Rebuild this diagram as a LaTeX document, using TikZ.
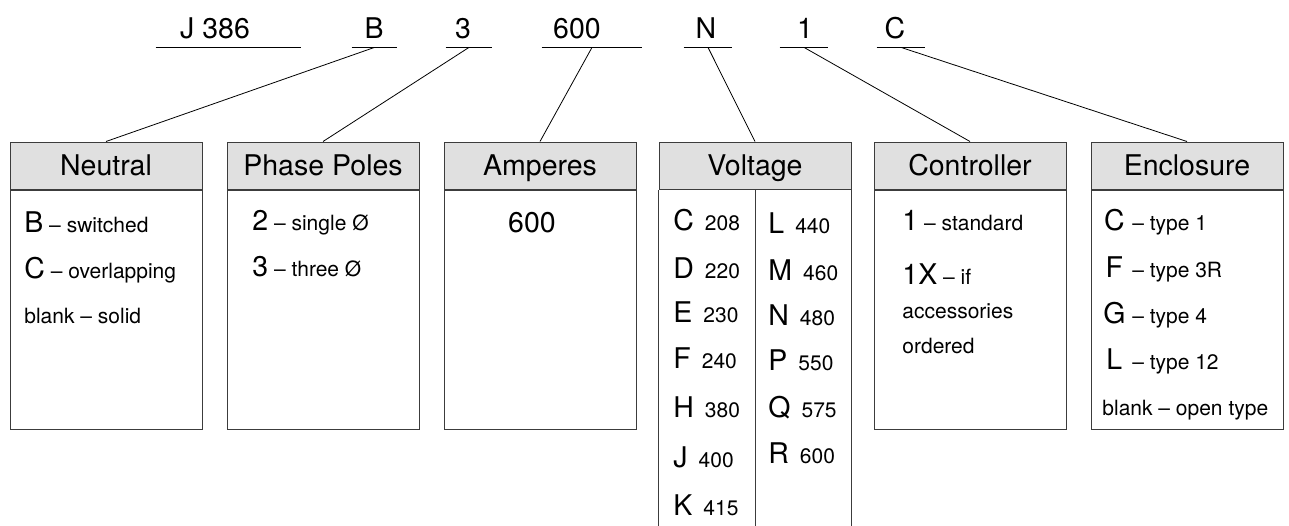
\documentclass[tikz,border=0pt]{standalone}
\usepackage{fontspec}
\setmainfont{TeX Gyre Heros}
\usetikzlibrary{positioning}
\definecolor{headgray}{RGB}{224,224,224}
\definecolor{rulegray}{RGB}{60,60,60}
\newcommand{\keyltr}[1]{{\fontsize{14.25}{17}\selectfont #1}}
\tikzset{
    code/.style = {
      font=\fontsize{14.25}{17}\selectfont, inner sep=0, anchor=base,
    },
    underbar/.style = {
      inner sep=0, minimum height=0pt,
    },
    bar/.style = {
      black, line width=0.5pt,
    },
    header/.style = {
      draw=rulegray, fill=headgray, line width=0.5pt, inner sep=0,
      minimum width=96pt, minimum height=23.5pt,
      text height=10.3pt, text depth=0pt, font=\fontsize{14.25}{17}\selectfont,
    },
    body/.style = {
      draw=rulegray, line width=0.5pt, inner sep=0,
      minimum width=96pt, minimum height=119.5pt,
    },
    entry/.style = {
      font=\fontsize{10.5}{12}\selectfont, inner sep=0, anchor=base west,
    },
    leader/.style = {
      black, line width=0.4pt,
    },
}

\begin{document}
\begin{tikzpicture}[x=0.5pt, y=-0.5pt]
    \useasboundingbox (0,0) rectangle (1289,525);

    %% Catalogue number, one field per underline
    \node [code] (tJ) at (215,38) {J 386};
    \node [code] (tB) at (374,38) {B};
    \node [code] (t3) at (463,38) {3};
    \node [code] (t600) at (577,38) {600};
    \node [code] (tN) at (706,38) {N};
    \node [code] (t1) at (805,38) {1};
    \node [code] (tC) at (895,38) {C};

    \node [underbar, minimum width=72.5pt] (uJ) at (228.5,47) {};
    \node [underbar, minimum width=22.5pt] (uB) at (374.5,47) {};
    \node [underbar, minimum width=23pt] (u3) at (469,47) {};
    \node [underbar, minimum width=50pt] (u600) at (592,47) {};
    \node [underbar, minimum width=24pt] (uN) at (708,47) {};
    \node [underbar, minimum width=24pt] (u1) at (804,47) {};
    \node [underbar, minimum width=24pt] (uC) at (901,47) {};
    \foreach \u in {uJ,uB,u3,u600,uN,u1,uC}{%
      \draw [bar] (\u.west) -- (\u.east);
    }

    %% Headers and their boxes
    \node [header] (neutral) at (106,165.5) {Neutral};
    \node [header] (phase) at (323,165.5) {Phase Poles};
    \node [header] (amps) at (540,165.5) {Amperes};
    \node [header] (volt) at (755,165.5) {Voltage};
    \node [header] (ctrl) at (970,165.5) {Controller};
    \node [header] (encl) at (1187,165.5) {Enclosure};

    \node [body, below=0pt of neutral] (neutralbody) {};
    \node [body, below=0pt of phase] (phasebody) {};
    \node [body, below=0pt of amps] (ampsbody) {};
    \node [body, below=0pt of ctrl] (ctrlbody) {};
    \node [body, below=0pt of encl] (enclbody) {};
    %% Voltage box runs off the bottom, split in two columns
    \node [body, draw=none, minimum height=168pt, below=0pt of volt] (voltbody) {};
    \draw [rulegray, line width=0.5pt] (voltbody.south west) -- (voltbody.north west)
      (voltbody.north east) -- (voltbody.south east)
      (voltbody.north) -- (voltbody.south);

    %% Leaders from each field to its box
    \foreach \u/\b in {uB/neutral, u3/phase, u600/amps, uN/volt, u1/ctrl, uC/encl}{%
      \draw [leader] (\u.south) -- (\b.north);
    }

    %% Neutral
    \node [entry] (nb) at (24,232) {\keyltr{B} -- switched};
    \node [entry] (nc) at (24,278) {\keyltr{C} -- overlapping};
    \node [entry] (nx) at (24,323) {blank -- solid};

    %% Phase poles
    \node [entry] (p2) at (252,230) {\keyltr{2} -- single Ø};
    \node [entry] (p3) at (252,276) {\keyltr{3} -- three Ø};

    %% Amperes
    \node [code] (a600) at (532,232) {600};

    %% Voltage
    \foreach \l/\v/\y [count=\i] in {C/208/230, D/220/278, E/230/322, F/240/368, H/380/417, J/400/467, K/415/515}{%
      \node [entry] (vl\i) at (673,\y) {\keyltr{\l}\hspace{5.5pt}\v};
    }
    \foreach \l/\v/\y [count=\i] in {L/440/233, M/460/280, N/480/325, P/550/370, Q/575/417, R/600/463}{%
      \node [entry] (vr\i) at (768,\y) {\keyltr{\l}\hspace{5.5pt}\v};
    }

    %% Controller
    \node [entry] (c1) at (902,230) {\keyltr{1} -- standard};
    \node [entry] (c1x) at (902,284) {\keyltr{1X} -- if};
    \node [entry] (c1a) at (902,318) {accessories};
    \node [entry] (c1b) at (902,353) {ordered};

    %% Enclosure
    \foreach \l/\t/\y [count=\i] in {C/type 1/230, F/type 3R/277, G/type 4/323, L/type 12/369}{%
      \node [entry] (e\i) at (1102,\y) {\makebox[12pt][c]{\keyltr{\l}} -- \t};
    }
    \node [entry] (ex) at (1102,415) {blank -- open type};
\end{tikzpicture}
\end{document}
